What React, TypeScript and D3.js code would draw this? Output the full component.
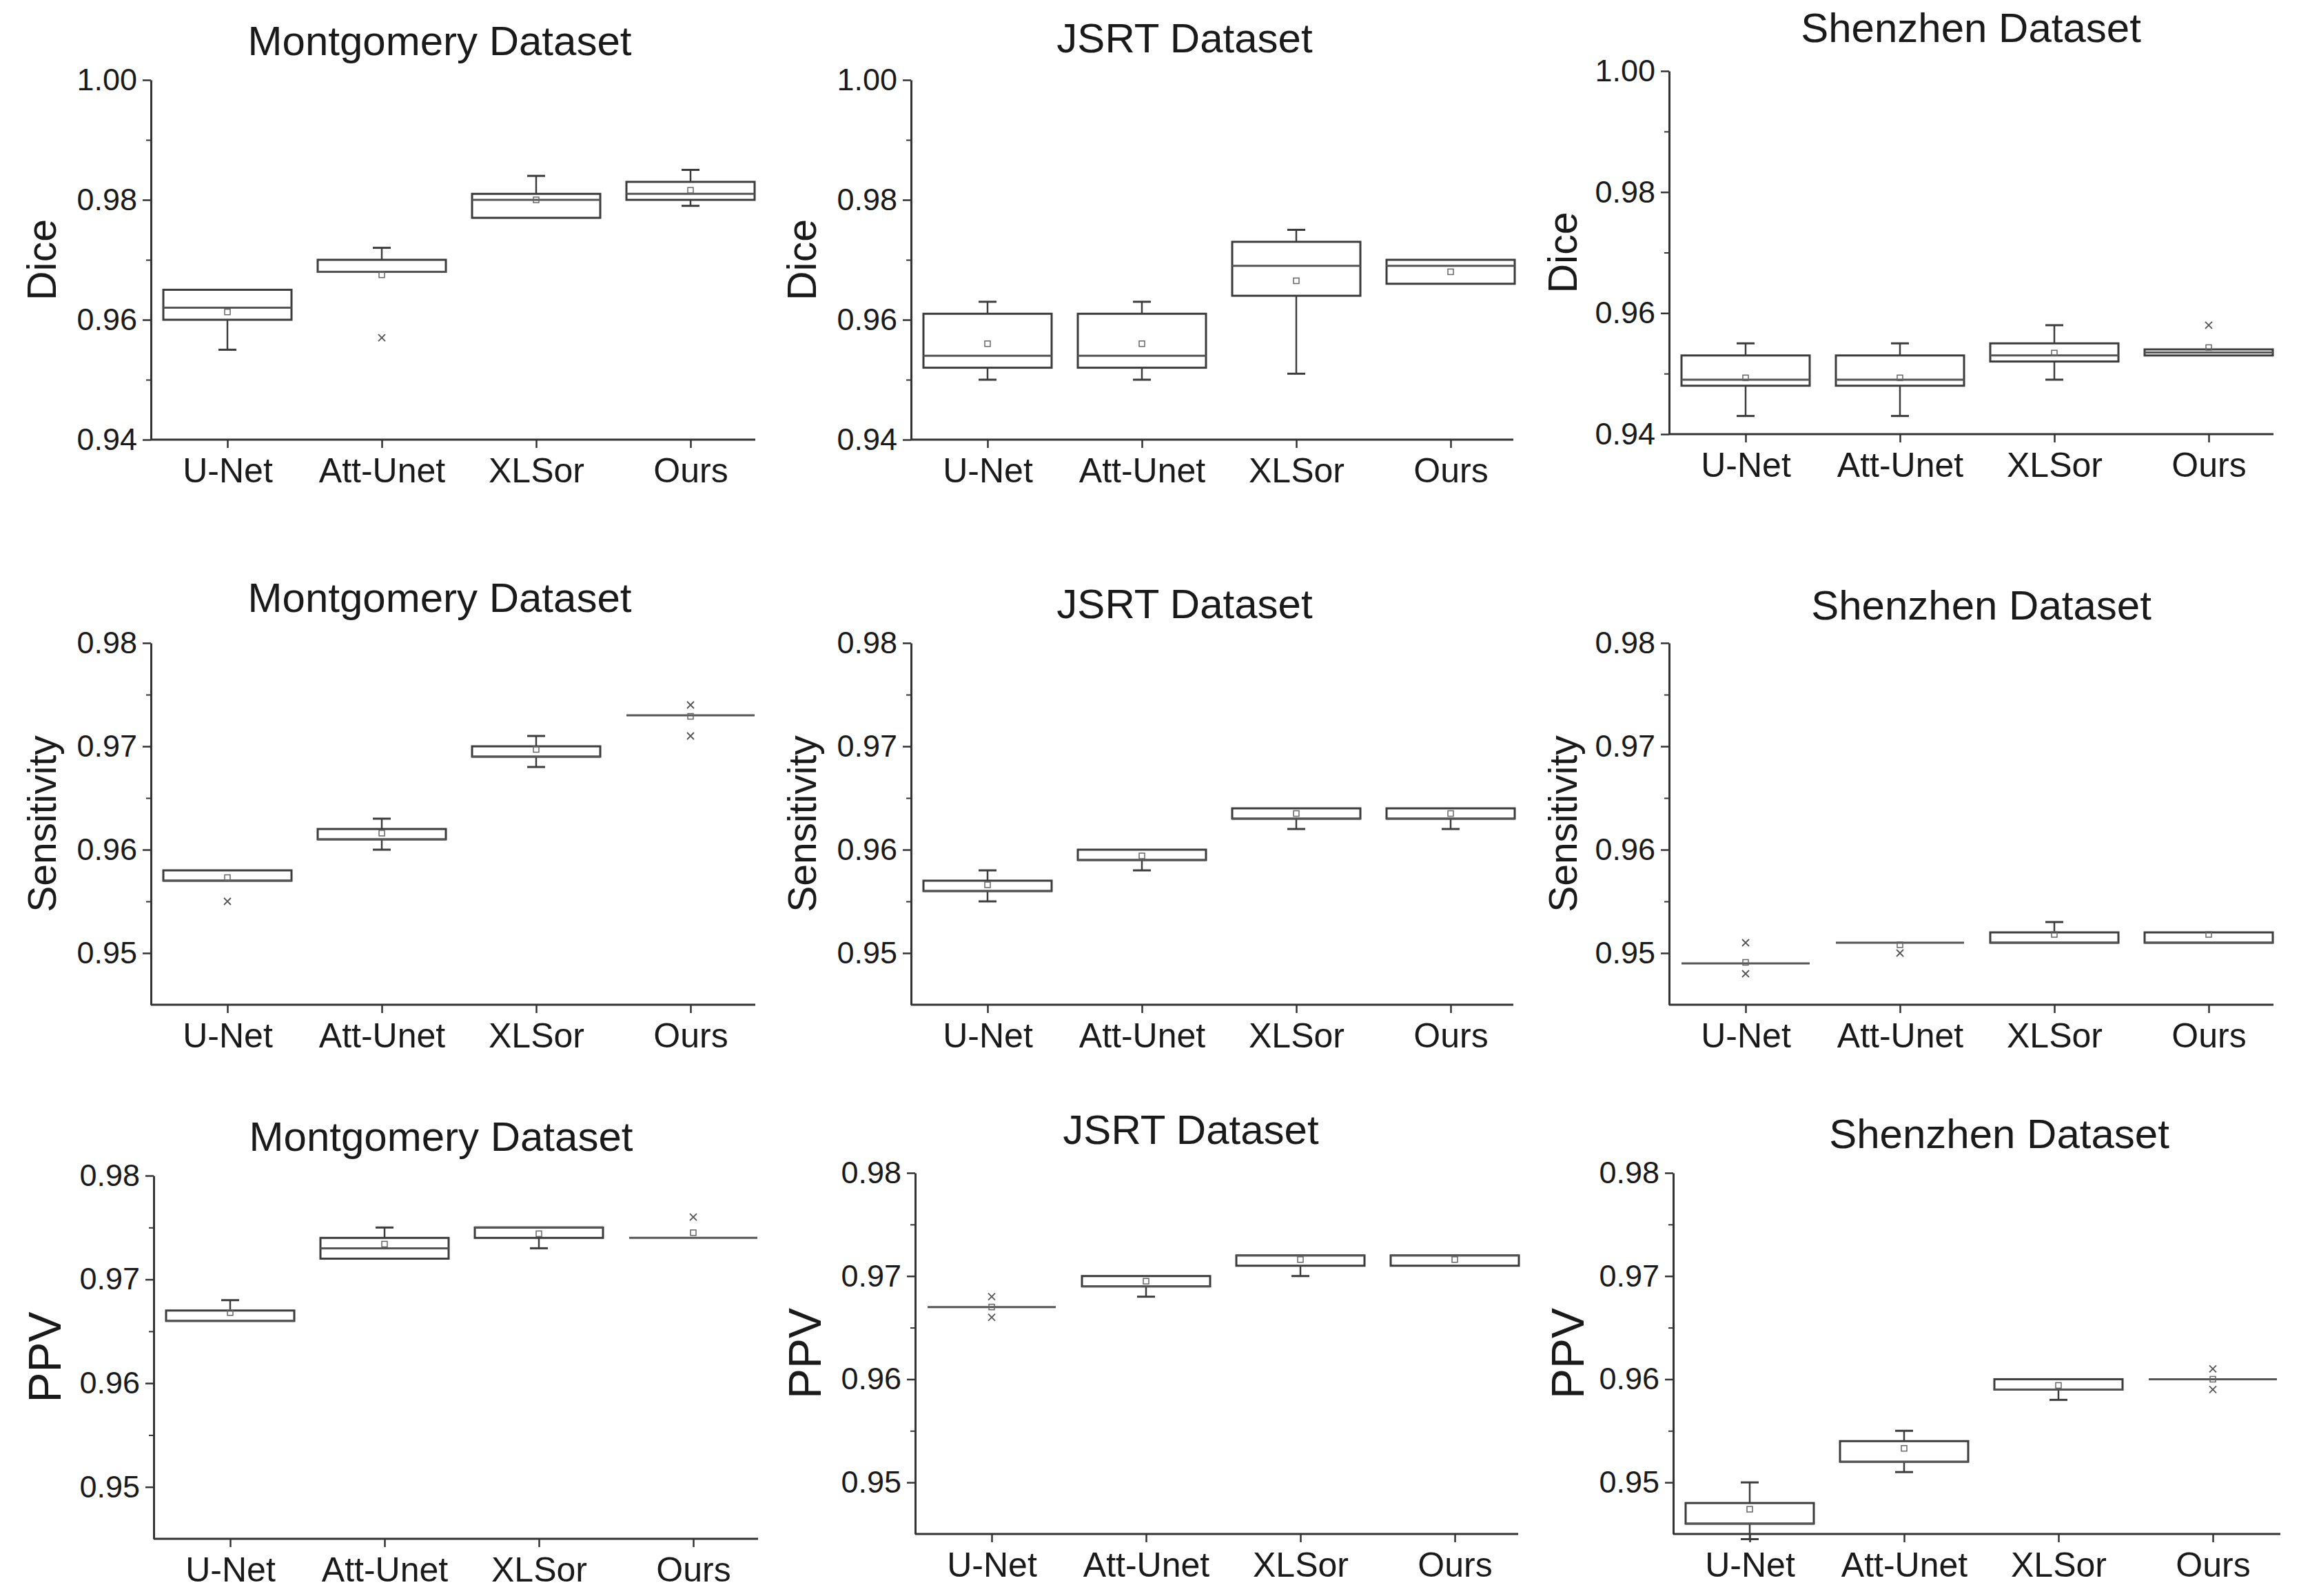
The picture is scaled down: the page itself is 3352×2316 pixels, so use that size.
import * as d3 from "d3";
import { useEffect, useRef } from "react";

const categories = ["U-Net", "Att-Unet", "XLSor", "Ours"];
const datasets = ["Montgomery Dataset", "JSRT Dataset", "Shenzhen Dataset"];
const metrics = ["Dice", "Sensitivity", "PPV"];
const metricFont = [59, 57, 66];

const diceTicks = [0.94, 0.96, 0.98, 1.0];
const diceMinor = [0.95, 0.97, 0.99];
const rateTicks = [0.95, 0.96, 0.97, 0.98];
const rateMinor = [0.955, 0.965, 0.975];

// each box: [low whisker, q1, median, q3, high whisker, mean]
const diceMontgomery = [
    [0.955, 0.96, 0.962, 0.965, 0.965, 0.9613],
    [0.968, 0.968, 0.968, 0.97, 0.972, 0.9675],
    [0.977, 0.977, 0.98, 0.981, 0.984, 0.98],
    [0.979, 0.98, 0.981, 0.983, 0.985, 0.9816],
];
const diceJsrt = [
    [0.95, 0.952, 0.954, 0.961, 0.963, 0.956],
    [0.95, 0.952, 0.954, 0.961, 0.963, 0.956],
    [0.951, 0.964, 0.969, 0.973, 0.975, 0.9665],
    [0.966, 0.966, 0.969, 0.97, 0.97, 0.968],
];
const diceShenzhen = [
    [0.943, 0.948, 0.949, 0.953, 0.955, 0.9493],
    [0.943, 0.948, 0.949, 0.953, 0.955, 0.9493],
    [0.949, 0.952, 0.953, 0.955, 0.958, 0.9534],
    [0.953, 0.953, 0.9535, 0.954, 0.954, 0.9543],
];
const sensMontgomery = [
    [0.957, 0.957, 0.957, 0.958, 0.958, 0.9573],
    [0.96, 0.961, 0.961, 0.962, 0.963, 0.9616],
    [0.968, 0.969, 0.969, 0.97, 0.971, 0.9697],
    [0.973, 0.973, 0.973, 0.973, 0.973, 0.9729],
];
const sensJsrt = [
    [0.955, 0.956, 0.956, 0.957, 0.958, 0.9566],
    [0.958, 0.959, 0.959, 0.96, 0.96, 0.9594],
    [0.962, 0.963, 0.963, 0.964, 0.964, 0.9635],
    [0.962, 0.963, 0.963, 0.964, 0.964, 0.9635],
];
const sensShenzhen = [
    [0.949, 0.949, 0.949, 0.949, 0.949, 0.9491],
    [0.951, 0.951, 0.951, 0.951, 0.951, 0.9508],
    [0.951, 0.951, 0.951, 0.952, 0.953, 0.9518],
    [0.951, 0.951, 0.951, 0.952, 0.952, 0.9518],
];
const ppvMontgomery = [
    [0.966, 0.966, 0.966, 0.967, 0.968, 0.9668],
    [0.972, 0.972, 0.973, 0.974, 0.975, 0.9734],
    [0.973, 0.974, 0.975, 0.975, 0.975, 0.9744],
    [0.974, 0.974, 0.974, 0.974, 0.974, 0.9745],
];
const ppvJsrt = [
    [0.967, 0.967, 0.967, 0.967, 0.967, 0.967],
    [0.968, 0.969, 0.969, 0.97, 0.97, 0.9695],
    [0.97, 0.971, 0.972, 0.972, 0.972, 0.9716],
    [0.971, 0.971, 0.972, 0.972, 0.972, 0.9716],
];
const ppvShenzhen = [
    [0.9445, 0.946, 0.946, 0.948, 0.95, 0.9474],
    [0.951, 0.952, 0.952, 0.954, 0.955, 0.9533],
    [0.958, 0.959, 0.959, 0.96, 0.96, 0.9594],
    [0.96, 0.96, 0.96, 0.96, 0.96, 0.96],
];

// points drawn as small crosses beyond the whiskers
const diceMontgomeryOut = [[], [0.957], [], []];
const diceShenzhenOut = [[], [], [], [0.958]];
const sensMontgomeryOut = [[0.955], [], [], [0.974, 0.971]];
const sensShenzhenOut = [[0.951, 0.948], [0.95], [], []];
const ppvMontgomeryOut = [[], [], [], [0.976]];
const ppvJsrtOut = [[0.968, 0.966], [], [], []];
const ppvShenzhenOut = [[], [], [], [0.961, 0.959]];
const noOut = [[], [], [], []];

const panelData = [
    [diceMontgomery, diceJsrt, diceShenzhen],
    [sensMontgomery, sensJsrt, sensShenzhen],
    [ppvMontgomery, ppvJsrt, ppvShenzhen],
];
const panelOut = [
    [diceMontgomeryOut, noOut, diceShenzhenOut],
    [sensMontgomeryOut, noOut, sensShenzhenOut],
    [ppvMontgomeryOut, ppvJsrtOut, ppvShenzhenOut],
];

// layout in pixels: axis x, top y, bottom y, axis end x, title x, title y, y-label x
const layout = [
    [
        [219, 116, 638, 1096, 638, 58, 60],
        [1322, 116, 638, 2196, 1719, 54, 1163],
        [2422, 103, 630, 3299, 2860, 39, 2267],
    ],
    [
        [219, 933, 1458, 1096, 638, 866, 60],
        [1322, 933, 1458, 2196, 1719, 875, 1163],
        [2422, 933, 1458, 3299, 2875, 877, 2267],
    ],
    [
        [223, 1706, 2233, 1100, 640, 1648, 64],
        [1328, 1702, 2226, 2203, 1728, 1638, 1167],
        [2428, 1702, 2226, 3309, 2901, 1644, 2274],
    ],
];

const FONT = "'Liberation Sans', Arial, Helvetica, sans-serif";
const INK = "#1a1a1a";
const BOX = "#3c3c3c";

export default function App() {
    const svgRef = useRef<SVGSVGElement | null>(null);

    useEffect(() => {
        if (!svgRef.current) return;
        const svg = d3.select(svgRef.current);
        svg.selectAll("*").remove();

        svg.append("rect")
            .attr("width", 3352)
            .attr("height", 2316)
            .attr("fill", "#fff");

        layout.forEach((row, r) => {
            row.forEach((L, c) => {
                const [ax, top, bottom, axEnd, tx, ty, lx] = L;
                const domain = r === 0 ? [0.94, 1.0] : [0.945, 0.98];
                const major = r === 0 ? diceTicks : rateTicks;
                const minor = r === 0 ? diceMinor : rateMinor;

                const y = d3.scaleLinear().domain(domain).range([bottom, top]);
                const x = d3
                    .scalePoint<string>()
                    .domain(categories)
                    .range([ax + 111, ax + 111 + 3 * 224]);
                const bw = 186;

                const g = svg.append("g");

                // title
                g.append("text")
                    .attr("x", tx)
                    .attr("y", ty)
                    .attr("dy", "0.36em")
                    .attr("text-anchor", "middle")
                    .attr("font-family", FONT)
                    .attr("font-size", 60)
                    .attr("fill", INK)
                    .text(datasets[c]);

                // y label
                g.append("text")
                    .attr("transform", `translate(${lx},${(top + bottom) / 2}) rotate(-90)`)
                    .attr("dy", "0.36em")
                    .attr("text-anchor", "middle")
                    .attr("font-family", FONT)
                    .attr("font-size", metricFont[r])
                    .attr("fill", INK)
                    .text(metrics[r]);

                // y axis
                const ya = g
                    .append("g")
                    .attr("transform", `translate(${ax},0)`)
                    .call(
                        d3
                            .axisLeft(y)
                            .tickValues(major)
                            .tickSize(12)
                            .tickSizeOuter(0)
                            .tickPadding(8)
                            .tickFormat(d3.format(".2f") as any)
                    );
                ya.attr("font-family", FONT).attr("font-size", 45);
                ya.selectAll("text").attr("fill", INK);
                ya.selectAll("line").attr("stroke", "#333").attr("stroke-width", 2.5);
                ya.select(".domain").attr("stroke", "#333").attr("stroke-width", 3);

                const ym = g
                    .append("g")
                    .attr("transform", `translate(${ax},0)`)
                    .call(d3.axisLeft(y).tickValues(minor).tickSize(7).tickFormat(() => ""));
                ym.select(".domain").remove();
                ym.selectAll("line").attr("stroke", "#333").attr("stroke-width", 2);

                // x axis
                g.append("line")
                    .attr("x1", ax)
                    .attr("x2", axEnd)
                    .attr("y1", bottom)
                    .attr("y2", bottom)
                    .attr("stroke", "#333")
                    .attr("stroke-width", 3);

                const xa = g
                    .append("g")
                    .attr("transform", `translate(0,${bottom})`)
                    .call(d3.axisBottom(x).tickSize(12).tickPadding(14));
                xa.select(".domain").remove();
                xa.attr("font-family", FONT).attr("font-size", 50);
                xa.selectAll("text").attr("fill", INK);
                xa.selectAll("line").attr("stroke", "#333").attr("stroke-width", 2.5);

                // boxes
                const boxes = panelData[r][c];
                const outs = panelOut[r][c];
                boxes.forEach((b, i) => {
                    const [lo, q1, med, q3, hi, mean] = b;
                    const cx = x(categories[i])!;
                    const bg = g.append("g");

                    const whisk = (v0: number, v1: number) => {
                        if (Math.abs(v0 - v1) < 1e-9) return;
                        bg.append("line")
                            .attr("x1", cx)
                            .attr("x2", cx)
                            .attr("y1", y(v0))
                            .attr("y2", y(v1))
                            .attr("stroke", BOX)
                            .attr("stroke-width", 2.5);
                        bg.append("line")
                            .attr("x1", cx - 13)
                            .attr("x2", cx + 13)
                            .attr("y1", y(v1))
                            .attr("y2", y(v1))
                            .attr("stroke", BOX)
                            .attr("stroke-width", 3);
                    };
                    whisk(q3, hi);
                    whisk(q1, lo);

                    bg.append("rect")
                        .attr("x", cx - bw / 2)
                        .attr("y", y(q3))
                        .attr("width", bw)
                        .attr("height", Math.max(0, y(q1) - y(q3)))
                        .attr("fill", "none")
                        .attr("stroke", BOX)
                        .attr("stroke-width", 3);

                    bg.append("line")
                        .attr("x1", cx - bw / 2)
                        .attr("x2", cx + bw / 2)
                        .attr("y1", y(med))
                        .attr("y2", y(med))
                        .attr("stroke", "#555")
                        .attr("stroke-width", 3);

                    bg.append("rect")
                        .attr("x", cx - 4)
                        .attr("y", y(mean) - 4)
                        .attr("width", 8)
                        .attr("height", 8)
                        .attr("fill", "none")
                        .attr("stroke", "#666")
                        .attr("stroke-width", 1.5);

                    outs[i].forEach((v: number) => {
                        const py = y(v);
                        bg.append("path")
                            .attr("d", `M${cx - 5},${py - 5}L${cx + 5},${py + 5}M${cx - 5},${py + 5}L${cx + 5},${py - 5}`)
                            .attr("stroke", "#555")
                            .attr("stroke-width", 1.8);
                    });
                });
            });
        });
    }, []);

    return (
        <svg
            ref={svgRef}
            width={3352}
            height={2316}
            style={{ position: "absolute", left: 0, top: 0, display: "block" }}
        />
    );
}
